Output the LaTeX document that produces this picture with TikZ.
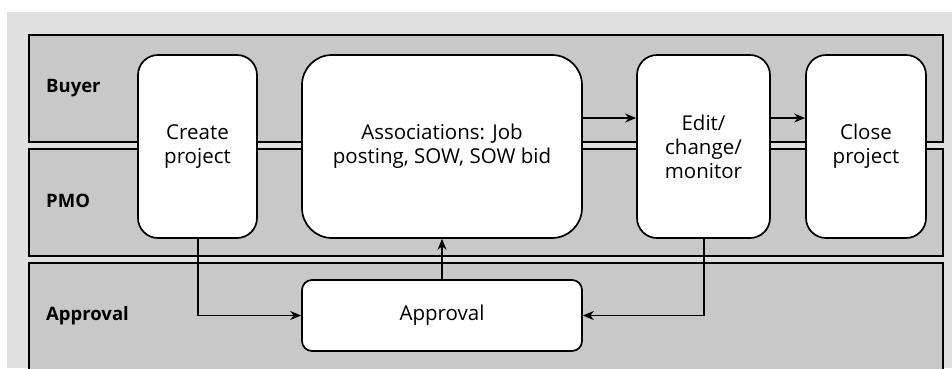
\documentclass[tikz,border=0pt]{standalone}
\usepackage{fontspec}
\setmainfont{Open Sans}
\usetikzlibrary{arrows.meta}
\definecolor{bgl}{HTML}{E0E0E0}
\definecolor{lane}{HTML}{C8C8C8}
\begin{document}
\begin{tikzpicture}[x=1pt,y=-1pt,
  lanebox/.style={draw=black,fill=lane,line width=1.7pt},
  lanelabel/.style={anchor=west,font=\fontsize{18.5}{22}\selectfont\bfseries,inner sep=0pt},
  taskbox/.style={draw=black,fill=white,line width=1.7pt,align=center,inner sep=0pt,
    font=\fontsize{20.5}{24}\selectfont},
  flow/.style={draw=black,line width=1.4pt,-{Stealth[length=11pt,width=9pt]}}]
\useasboundingbox (0,0) rectangle (952,368);
\fill[white] (0,0) rectangle (952,368);
\fill[bgl] (7,12) rectangle (952,368);
\draw[lanebox] (29,35) rectangle (943,142);
\draw[lanebox] (29,149) rectangle (943,256);
\draw[lanebox] (29,263) rectangle (943,390);
\node[lanelabel] (lb) at (46,88) {Buyer};
\node[lanelabel] (lp) at (46,201) {PMO};
\node[lanelabel] (la) at (46,316) {Approval};
\node[taskbox,rounded corners=20pt,minimum width=119pt,minimum height=183pt] (cp) at (197.5,146.5) {Create\\project};
\node[taskbox,rounded corners=30pt,minimum width=280pt,minimum height=183pt] (as) at (442,146.5) {Associations: Job\\posting, SOW, SOW bid};
\node[taskbox,rounded corners=20pt,minimum width=133pt,minimum height=183pt] (ed) at (703.5,146.5) {Edit/\\change/\\monitor};
\node[taskbox,rounded corners=20pt,minimum width=120pt,minimum height=183pt] (cl) at (866,146.5) {Close\\project};
\node[taskbox,rounded corners=10pt,minimum width=280pt,minimum height=71pt] (ap) at (442,315.5) {Approval};
\coordinate (a1) at (582,118);
\coordinate (a2) at (770,118);
\draw[flow] (a1) -- (ed.west |- a1);
\draw[flow] (a2) -- (cl.west |- a2);
\draw[flow] (198,238) |- (ap.west);
\draw[flow] (ap.north) -- (as.south);
\draw[flow] (704,238) |- (ap.east);
\end{tikzpicture}
\end{document}
